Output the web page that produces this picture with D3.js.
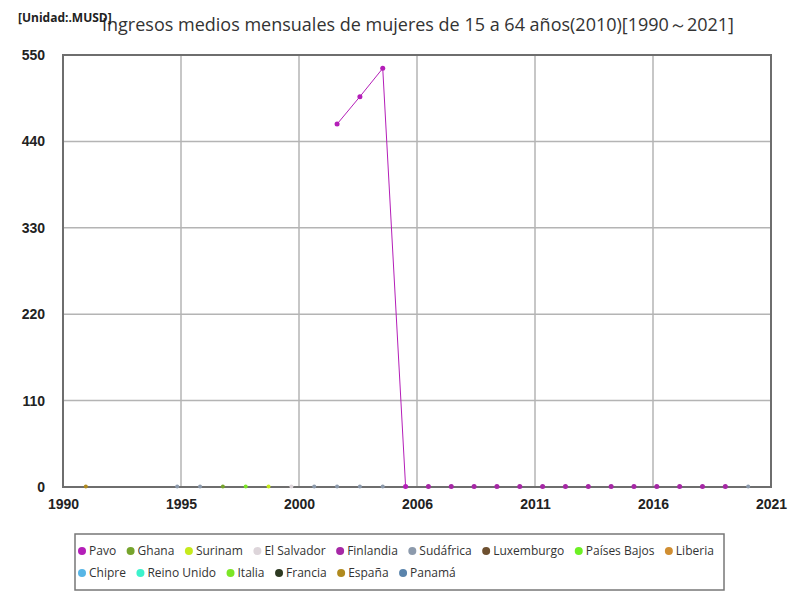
<!doctype html>
<html lang="es">
<head>
    <meta charset="utf-8">
    <title>Ingresos medios mensuales de mujeres</title>
    <script src="https://cdnjs.cloudflare.com/ajax/libs/d3/7.8.5/d3.min.js"></script>
    <style>
        body { margin: 0; background: #fff; font-family: "Open Sans", "Noto Sans", sans-serif; }
        .axis text { font-size: 14px; font-weight: bold; fill: #222; }
        .legend text { font-size: 12px; fill: #333; }
    </style>
</head>
<body>
<div id="chart"></div>
<script>
// series names and colours, same order as the legend
var seriesNames = ["Pavo", "Ghana", "Surinam", "El Salvador", "Finlandia", "Sudáfrica", "Luxemburgo",
    "Países Bajos", "Liberia", "Chipre", "Reino Unido", "Italia", "Francia", "España", "Panamá"];
var seriesColors = ["#b41eb8", "#76a42c", "#c6ea1c", "#ddd5da", "#a628a6", "#8c9aac", "#6e5030",
    "#6cf024", "#d08e32", "#58b6e6", "#3cf2cc", "#7ce626", "#2e3a22", "#b08a1e", "#5a84ac"];

// values per series: [year, value]
var pavoValues = [[2002, 462], [2003, 497], [2004, 533], [2005, 0.5]];
var finlandiaValues = [[2006, 0.5], [2007, 0.5], [2008, 0.5], [2009, 0.5], [2010, 0.5], [2011, 0.5],
    [2012, 0.5], [2013, 0.5], [2014, 0.5], [2015, 0.5], [2016, 0.5], [2017, 0.5], [2018, 0.5], [2019, 0.5]];
var ghanaValues = [[1997, 0.5]];
var surinamValues = [[1999, 0.5]];
var salvadorValues = [[2000, 0.5]];
var sudafricaValues = [[1995, 0.5], [1996, 0.5], [2001, 0.5], [2002, 0.5], [2003, 0.5], [2004, 0.5], [2020, 0.5]];
var italiaValues = [[1998, 0.5]];
var espanaValues = [[1991, 0.5]];

var seriesValues = {
    "Pavo": pavoValues, "Finlandia": finlandiaValues, "Ghana": ghanaValues, "Surinam": surinamValues,
    "El Salvador": salvadorValues, "Sudáfrica": sudafricaValues, "Italia": italiaValues, "España": espanaValues
};

var yTicks = [0, 110, 220, 330, 440, 550];
var xDomain = [1990, 2021];

var width = 800, height = 600;
var plot = { left: 63, right: 771, top: 55, bottom: 487 };

var svg = d3.select("#chart").append("svg")
    .attr("width", width)
    .attr("height", height);

var x = d3.scaleLinear().domain(xDomain).range([plot.left, plot.right]);
var y = d3.scaleLinear().domain([0, 550]).range([plot.bottom, plot.top]);
var color = d3.scaleOrdinal().domain(seriesNames).range(seriesColors);

// x ticks split the range into six equal parts, labels rounded to whole years
var xTicks = d3.range(7).map(function(i) { return xDomain[0] + i * (xDomain[1] - xDomain[0]) / 6; });

// grid
svg.append("g").selectAll("line.v")
    .data(xTicks.slice(1, -1))
    .enter().append("line")
    .attr("x1", function(d) { return x(d); })
    .attr("x2", function(d) { return x(d); })
    .attr("y1", plot.top).attr("y2", plot.bottom)
    .attr("stroke", "#b4b4b4").attr("stroke-width", 1.5);

svg.append("g").selectAll("line.h")
    .data(yTicks.slice(1, -1))
    .enter().append("line")
    .attr("x1", plot.left).attr("x2", plot.right)
    .attr("y1", function(d) { return y(d); })
    .attr("y2", function(d) { return y(d); })
    .attr("stroke", "#b4b4b4").attr("stroke-width", 1.5);

// series lines
var line = d3.line()
    .x(function(d) { return x(d[0]); })
    .y(function(d) { return y(d[1]); });

seriesNames.forEach(function(name) {
    var vals = seriesValues[name];
    if (!vals || vals.length < 2) return;
    svg.append("path")
        .datum(vals)
        .attr("d", line)
        .attr("fill", "none")
        .attr("stroke", color(name))
        .attr("stroke-width", 1);
});

// plot frame
svg.append("rect")
    .attr("x", plot.left).attr("y", plot.top)
    .attr("width", plot.right - plot.left).attr("height", plot.bottom - plot.top)
    .attr("fill", "none").attr("stroke", "#6e6e6e").attr("stroke-width", 2);

// series points
seriesNames.forEach(function(name) {
    var vals = seriesValues[name];
    if (!vals) return;
    svg.append("g").selectAll("circle")
        .data(vals)
        .enter().append("circle")
        .attr("cx", function(d) { return x(d[0]); })
        .attr("cy", function(d) { return y(d[1]); })
        .attr("r", name === "Pavo" || name === "Finlandia" ? 2.5 : 2)
        .attr("fill", color(name));
});

// axes
var xAxis = d3.axisBottom(x).tickValues(xTicks).tickSize(0).tickPadding(12)
    .tickFormat(function(d) { return Math.round(d); });
svg.append("g").attr("class", "axis")
    .attr("transform", "translate(0," + plot.bottom + ")")
    .call(xAxis)
    .call(function(g) { g.select(".domain").remove(); });

var yAxis = d3.axisLeft(y).tickValues(yTicks).tickSize(0).tickPadding(18);
svg.append("g").attr("class", "axis")
    .attr("transform", "translate(" + plot.left + ",0)")
    .call(yAxis)
    .call(function(g) { g.select(".domain").remove(); });

// title and unit
svg.append("text")
    .attr("x", 418).attr("y", 31)
    .attr("text-anchor", "middle")
    .attr("font-size", 18)
    .attr("fill", "#333")
    .text("Ingresos medios mensuales de mujeres de 15 a 64 años(2010)[1990～2021]");

svg.append("text")
    .attr("x", 18).attr("y", 22)
    .attr("font-size", 12)
    .attr("font-weight", "bold")
    .attr("fill", "#222")
    .text("[Unidad:.MUSD]");

// legend
var legend = svg.append("g").attr("class", "legend");
legend.append("rect")
    .attr("x", 75).attr("y", 534)
    .attr("width", 649).attr("height", 56)
    .attr("fill", "#fff").attr("stroke", "#777").attr("stroke-width", 1.5);

var rows = [seriesNames.slice(0, 9), seriesNames.slice(9)];
rows.forEach(function(row, r) {
    var cx = 82;
    row.forEach(function(name) {
        var item = legend.append("g").attr("transform", "translate(" + cx + "," + (551 + r * 22) + ")");
        item.append("circle").attr("r", 4).attr("fill", color(name));
        var t = item.append("text").attr("x", 7).attr("dy", "0.35em").text(name);
        cx += 7 + t.node().getComputedTextLength() + 14.5;
    });
});
</script>
</body>
</html>
